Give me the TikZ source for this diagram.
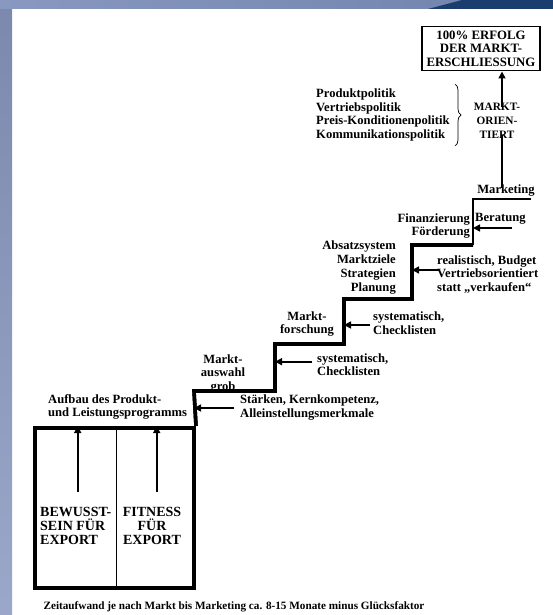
\documentclass[tikz,border=0pt]{standalone}
\usepackage{fontspec}
\setmainfont{Liberation Serif}
\usetikzlibrary{arrows.meta,decorations.pathreplacing}
\definecolor{bglight}{RGB}{136,152,192}
\definecolor{bgmid}{RGB}{112,130,172}
\definecolor{bgdark}{RGB}{28,62,110}
\begin{document}
\begin{tikzpicture}[x=1pt,y=-1pt,
  txt/.style={font=\bfseries\fontsize{12.6}{13.8}\selectfont, inner sep=0pt},
  caps/.style={font=\bfseries\fontsize{14}{13.6}\selectfont, inner sep=0pt},
  arr/.style={line width=1.6pt,-{Triangle[length=7pt,width=7pt]}},
  stairthin/.style={line width=1.8pt,line join=miter},
  stairthick/.style={line width=3.6pt,line join=miter},
]
\useasboundingbox (0,0) rectangle (553,615);
% background
\fill[white] (0,0) rectangle (553,615);
\shade[top color=bglight!90!black, bottom color=bglight!85!white] (0,0) rectangle (12,615);
\shade[left color=bglight, right color=bgmid] (0,0) rectangle (553,9);
\fill[bgdark] (428,9) -- (462,0) -- (553,0) -- (553,9) -- cycle;

% goal box
\node[draw, line width=1.6pt, minimum width=118pt, minimum height=44pt, inner sep=0pt,
      font=\bfseries\fontsize{12.8}{13.5}\selectfont, align=center] (goal) at (481,48.7)
  {100\% ERFOLG\\DER MARKT-\\ERSCHLIESSUNG};

% policies
\node[txt, align=left, anchor=west, font=\bfseries\fontsize{12.6}{13.4}\selectfont] (pol) at (316,115)
  {Produktpolitik\\Vertriebspolitik\\Preis-Konditionenpolitik\\Kommunikationspolitik};
\draw[line width=0.7pt, decorate, decoration={brace, amplitude=6pt}] (455,84) -- (455,146);

% markt-orientiert
\node[font=\bfseries\fontsize{11.3}{14}\selectfont, inner sep=0pt, align=center] (mo) at (497,121)
  {MARKT-\\ORIEN-\\TIERT};
\node[txt] (mk) at (506,191) {Marketing};
\draw[arr] ([xshift=5pt,yshift=-4pt]mo.north) -- ([xshift=5pt]mo.north |- goal.south);
\draw[line width=1.6pt] ([xshift=5pt,yshift=4pt]mo.south) -- ([xshift=5pt,yshift=-3pt]mo.south |- mk.north);

% stair coordinates
\coordinate (s0) at (531,199);
\coordinate (s1) at (473,199);
\coordinate (s2) at (473,245);
\coordinate (s3) at (412,245);
\coordinate (s4) at (412,299);
\coordinate (s5) at (344,299);
\coordinate (s6) at (344,344);
\coordinate (s7) at (275,344);
\coordinate (s8) at (275,391);
\coordinate (s9) at (194,391);

% box
\node[draw, line width=4pt, minimum width=159pt, minimum height=160pt, inner sep=0pt] (box) at (114.5,508) {};
\draw[line width=1.4pt] ([xshift=2pt]box.north) -- ([xshift=2pt]box.south);

\draw[stairthin] (s0) -- (s1) -- (s2);
\draw[stairthick] (s2) -- (s3) -- (s4) -- (s5) -- (s6) -- (s7) -- (s8) -- (s9) -- (box.north east);

% step 5
\node[txt, align=right, anchor=east] (fin) at (470,226) {Finanzierung\\Förderung};
\node[txt, anchor=west] (ber) at (475,219) {Beratung};
\coordinate (a1) at (512,228);
\draw[arr] (a1) -- (s1 |- a1);

% step 4
\node[txt, align=right, anchor=east] (abs) at (396,267.5) {Absatzsystem\\Marktziele\\Strategien\\Planung};
\node[txt, align=left, anchor=west] (real) at (437,274.5) {realistisch, Budget\\Vertriebsorientiert\\statt „verkaufen“};
\coordinate (a2) at (439,270);
\draw[arr] (a2) -- (s3 |- a2);

% step 3
\node[txt, align=center] (mf) at (307,324) {Markt-\\forschung};
\node[txt, align=left, anchor=west] (sys2) at (373,323.5) {systematisch,\\Checklisten};
\coordinate (a3) at (370,325);
\draw[arr] (a3) -- (s5 |- a3);

% step 2
\node[txt, align=center] (ma) at (223,374) {Markt-\\auswahl\\grob};
\node[txt, align=left, anchor=west] (sys1) at (317,364.7) {systematisch,\\Checklisten};
\coordinate (a4) at (312,361.7);
\draw[arr] (a4) -- (s7 |- a4);
\draw[stairthick] (s8) -- (s9);

% step 1
\node[txt, align=left, anchor=west] (auf) at (48,407) {Aufbau des Produkt-\\und Leistungsprogramms};
\node[txt, align=left, anchor=west] (st) at (240,407.3) {Stärken, Kernkompetenz,\\Alleinstellungsmerkmale};
\coordinate (a5) at (234,408);
\draw[arr] (a5) -- (s9 |- a5);
\draw[stairthick] (s9) -- (box.north east);

% box contents
\node[caps, align=left, anchor=west] (bew) at (40,526) {BEWUSST-\\SEIN FÜR\\EXPORT};
\node[caps, align=center] (fit) at (152,526) {FITNESS\\FÜR\\EXPORT};
\coordinate (b1) at (77.7,492);
\coordinate (b2) at (156.7,492);
\draw[arr] (b1) -- (b1 |- box.north);
\draw[arr] (b2) -- (b2 |- box.north);

% caption
\node[font=\bfseries\fontsize{11.2}{12}\selectfont, inner sep=0pt] (cap) at (234,606.5)
  {Zeitaufwand je nach Markt bis Marketing ca. 8-15 Monate minus Glücksfaktor};
\end{tikzpicture}
\end{document}
